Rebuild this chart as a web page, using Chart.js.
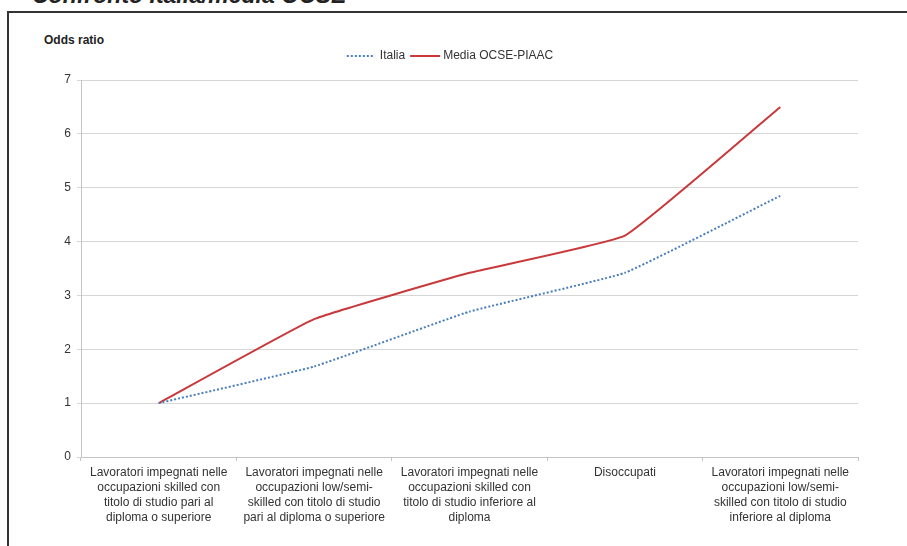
<!DOCTYPE html>
<html><head><meta charset="utf-8">
<script src="https://cdn.jsdelivr.net/npm/chart.js@4/dist/chart.umd.min.js"></script>
<style>
html,body{margin:0;padding:0;background:#fff;width:907px;height:546px;overflow:hidden;font-family:"Liberation Sans",Arial,sans-serif;}
#wrap{position:relative;width:907px;height:546px;overflow:hidden;}
#frame{position:absolute;left:7px;top:11px;width:920px;height:560px;border-left:2px solid #333;border-top:2px solid #333;}
#title{position:absolute;left:32px;top:-16px;font:italic bold 23px/23px "Liberation Sans",Arial,sans-serif;color:#222;white-space:nowrap;}
#ylab{position:absolute;left:44px;top:32px;font:bold 12px/16px "Liberation Sans",Arial,sans-serif;color:#222;}
canvas{position:absolute;left:0;top:0;}
</style></head>
<body>
<div id="wrap">
  <div id="title">Confronto Italia/media OCSE</div>
  <div id="frame"></div>
  <div id="ylab">Odds ratio</div>
  <canvas id="c" width="907" height="546"></canvas>
</div>
<script>
const categories = [
  ["Lavoratori impegnati nelle","occupazioni skilled con","titolo di studio pari al","diploma o superiore"],
  ["Lavoratori impegnati nelle","occupazioni low/semi-","skilled con titolo di studio","pari al diploma o superiore"],
  ["Lavoratori impegnati nelle","occupazioni skilled con","titolo di studio inferiore al","diploma"],
  "Disoccupati",
  ["Lavoratori impegnati nelle","occupazioni low/semi-","skilled con titolo di studio","inferiore al diploma"]
];
const seriesNames = ["Italia", "Media OCSE-PIAAC"];
const italia = [1, 1.68, 2.7, 3.42, 4.85];
const mediaOcse = [1, 2.56, 3.42, 4.11, 6.5];
const yMin = 0, yMax = 7, yStep = 1;

const FONT = '"Liberation Sans", Arial, sans-serif';
const TEXT = '#333';

const legendPlugin = {
  id: 'customLegend',
  afterDraw(chart) {
    const ctx = chart.ctx;
    const ds = chart.data.datasets;
    ctx.save();
    ctx.font = '12px ' + FONT;
    ctx.textBaseline = 'middle';
    const lineW = [28, 30], gapTxt = [5, 3], gapItem = 5;
    const tw = ds.map(d => ctx.measureText(d.label).width);
    const total = lineW[0] + gapTxt[0] + tw[0] + gapItem + lineW[1] + gapTxt[1] + tw[1];
    let x = 450 - total / 2;
    const y = 56;
    ds.forEach((d, i) => {
      ctx.beginPath();
      ctx.strokeStyle = d.borderColor;
      ctx.lineWidth = d.borderWidth;
      ctx.setLineDash(d.borderDash || []);
      ctx.moveTo(x, y); ctx.lineTo(x + lineW[i], y);
      ctx.stroke();
      ctx.setLineDash([]);
      x += lineW[i] + gapTxt[i];
      ctx.fillStyle = TEXT;
      ctx.fillText(d.label, x, y);
      x += tw[i] + gapItem;
    });
    ctx.restore();
  }
};

new Chart(document.getElementById('c'), {
  type: 'line',
  data: {
    labels: categories,
    datasets: [
      { label: seriesNames[0], data: italia, borderColor: '#4a7ebb', borderWidth: 2, borderDash: [2, 2],
        pointRadius: 0, tension: 0.1, fill: false },
      { label: seriesNames[1], data: mediaOcse, borderColor: '#c9383a', borderWidth: 2,
        pointRadius: 0, tension: 0.1, fill: false }
    ]
  },
  options: {
    responsive: false,
    animation: false,
    layout: { padding: { left: 0, right: 49, top: 80, bottom: 0 } },
    plugins: { legend: { display: false }, tooltip: { enabled: false }, title: { display: false } },
    scales: {
      x: {
        offset: true,
        grid: { offset: true, drawOnChartArea: false, tickLength: 4, color: '#c4c4c4' },
        border: { display: true, color: '#c4c4c4' },
        ticks: { color: TEXT, font: { family: FONT, size: 12, lineHeight: 1.25 }, padding: 4,
                 maxRotation: 0, minRotation: 0, autoSkip: false },
        afterFit(s) { s.height = 89; }
      },
      y: {
        min: yMin, max: yMax,
        ticks: { stepSize: yStep, color: TEXT, font: { family: FONT, size: 12 }, padding: 6 },
        grid: { color: '#d6d6d6', lineWidth: 1, tickLength: 4 },
        border: { display: true, color: '#c4c4c4' },
        afterFit(s) { s.width = 81; }
      }
    }
  },
  plugins: [legendPlugin]
});
</script>
</body></html>
